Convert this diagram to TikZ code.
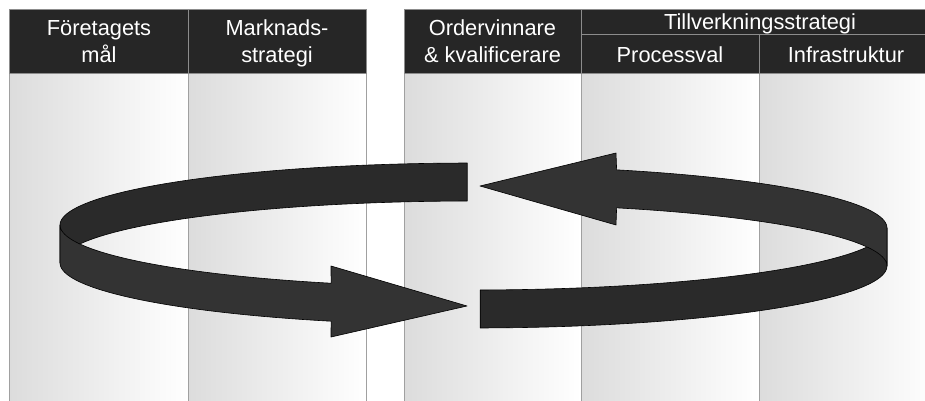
\documentclass[tikz,border=0pt]{standalone}
\usepackage{fontspec}
\setmainfont{Liberation Sans}
\definecolor{headfill}{HTML}{262626}
\definecolor{headrule}{HTML}{8C8C8C}
\definecolor{colrule}{HTML}{A0A0A0}
\definecolor{colshade}{HTML}{DCDCDC}
\definecolor{bandA}{HTML}{2A2A2A}
\definecolor{bandB}{HTML}{333333}
\begin{document}
\begin{tikzpicture}[x=1pt,y=-1pt,
  colbody/.style={draw=colrule, line width=1pt, left color=colshade, right color=white},
  headcell/.style={draw=headrule, line width=1pt, fill=headfill},
  headtext/.style={text=white, font=\fontsize{21.8}{27}\selectfont, align=center, inner sep=0pt, anchor=base},
  banddark/.style={fill=bandA, draw=black, line width=0.6pt, line join=round},
  bandlight/.style={fill=bandB, draw=black, line width=0.6pt, line join=round},
]
\path[use as bounding box] (0,0) rectangle (925,401);
\clip (0,0) rectangle (925,401);

% column bodies
\path[colbody] (9,74) rectangle (188,410);
\path[colbody] (188,74) rectangle (366,410);
\path[colbody] (404,74) rectangle (581,410);
\path[colbody] (581,74) rectangle (759,410);
\path[colbody] (759,74) rectangle (937,410);

% header cells
\path[headcell] (9,10) rectangle (188,74);
\path[headcell] (188,10) rectangle (366,74);
\path[headcell] (404,10) rectangle (581,74);
\path[headcell] (581,10) rectangle (937,35);
\path[headcell] (581,35) rectangle (759,74);
\path[headcell] (759,35) rectangle (937,74);

% header texts
\node[headtext] (goal) at (99,63) {Företagets\\mål};
\node[headtext] (market) at (277,63) {Marknads-\\strategi};
\node[headtext] (order) at (492.5,63) {Ordervinnare\\\& kvalificerare};
\node[headtext] (manuf) at (760,30) {Tillverkningsstrategi};
\node[headtext] (process) at (670,63) {Processval};
\node[headtext] (infra) at (846,63) {Infrastruktur};

% left half of the ring: back band, then front band with arrowhead
\path[banddark]
  plot[domain=90.8:180, samples=50] ({473+413*cos(\x)},{225-62*sin(\x)})
  -- plot[domain=180:90.8, samples=50] ({473+413*cos(\x)},{263-62*sin(\x)})
  -- cycle;
\path[bandlight]
  plot[domain=180:249.9, samples=50] ({473+413*cos(\x)},{225-62*sin(\x)})
  -- (331,266) -- (467,306) -- (331,337)
  -- plot[domain=249.9:180, samples=50] ({473+413*cos(\x)},{263-62*sin(\x)})
  -- cycle;

% right half of the ring: front band, then back band with arrowhead
\path[banddark]
  plot[domain=271:360, samples=50] ({473+414*cos(\x)},{228-62*sin(\x)})
  -- plot[domain=360:271, samples=50] ({473+414*cos(\x)},{266-62*sin(\x)})
  -- cycle;
\path[bandlight]
  plot[domain=0:69.7, samples=50] ({473+414*cos(\x)},{228-62*sin(\x)})
  -- (616,153) -- (480,186) -- (616,225)
  -- plot[domain=69.7:0, samples=50] ({473+414*cos(\x)},{266-62*sin(\x)})
  -- cycle;
\end{tikzpicture}
\end{document}
